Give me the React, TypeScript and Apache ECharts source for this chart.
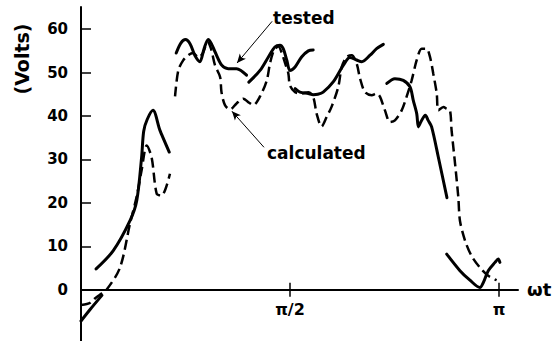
import React, { useEffect, useRef } from "react";
import * as echarts from "echarts";

// x in degrees of ωt (0..180 = 0..π), y in volts
const testedA: number[][] = [[0, -7.2], [4, -4.5], [9, -1.3]];
const testedB: number[][] = [[6.5, 4.8], [13.9, 9.0], [21.1, 15.9], [24, 20.5], [26.1, 30.5], [27, 36.5], [28.5, 39.2], [31, 41.3], [34, 36.7], [38, 31.7]];
const testedC: number[][] = [[41, 54.5], [43, 56.8], [45, 57.6], [47, 56.6], [49, 54], [51.2, 52.5], [53, 55.5], [54.8, 57.6], [56.3, 56.5], [57.7, 54.8], [60.6, 51.7], [63.4, 50.9], [67, 50.9], [71.3, 49.4]];
const testedD: number[][] = [[72.3, 47.8], [77.1, 50.5], [80.7, 53.6], [83.5, 55.9], [85.7, 56.3], [87.1, 55.5], [88.6, 52.9], [90, 50.5], [92.2, 51.3], [95, 53.6], [97.9, 55], [100, 55.2]];
const testedE: number[][] = [[92.2, 46.3], [94.3, 45.5], [97.9, 45.2], [100, 44.9], [102, 45], [104.3, 45.5], [108.7, 47.9], [113, 51.7], [115.8, 53.5], [118.7, 52.9], [120.9, 52.5], [124.5, 54], [127.3, 55.5], [130.2, 56.5]];
const testedF: number[][] = [[131.7, 47.5], [135.2, 48.6], [138.8, 48.2], [141.7, 46.7], [143.1, 43.6], [144.6, 40.5], [145.3, 37.5], [146.5, 38.8], [148.3, 40.2], [149.5, 39], [151, 37.5], [153.9, 30.5], [157.6, 21.2]];
const testedG: number[][] = [[157.5, 8.2], [163.2, 4.4], [167.5, 2.2], [171.8, 0.5], [173.3, 1.7], [175.4, 4.4], [178.3, 6.3], [179.7, 7.1], [180.4, 6.3]];

const calculatedA: number[][] = [[0, -3.5], [2.5, -3.3], [4, -3], [6, -2], [8, -1.2], [11, 0], [16.8, 5.1], [21.1, 15.2], [24, 21.5], [26.1, 27.5], [28.3, 33.2], [30.4, 30.5], [32.6, 22.1], [34.7, 21.7], [38.3, 26.7]];
const calculatedB: number[][] = [[40.5, 44.5], [41.9, 50.5], [44, 52.8], [46.2, 54], [48.3, 54.5], [50.5, 53.5], [52.5, 54.5], [54.5, 57], [56, 55.5], [57.7, 51.7], [59.9, 49], [60.5, 45.5], [62, 42.5], [64.2, 41.5], [67, 42.9], [69.9, 44], [72, 43.2], [74.2, 42.5], [77.1, 44.5], [80, 48.2], [81.4, 52.1], [83, 55], [85, 56], [86.5, 54.5], [88, 52], [89.3, 49.8], [90, 47], [92.2, 45.5], [95, 45.2], [97.9, 45.5], [100, 44.4], [101.5, 40.5], [103.6, 37.6], [105.8, 39.8], [107.9, 42.1], [110.8, 46.7], [112.3, 51.3], [114.4, 53.6], [116.6, 54], [118.7, 52.1], [120.2, 48.6], [122.3, 45.5], [125.2, 44.8], [127.3, 45.2], [128.8, 44.4], [130.9, 41.3], [133.1, 38.6], [135.2, 39], [138.1, 41.3], [140.2, 44.4], [142.4, 48.2], [144.6, 52.9], [146.7, 55.5], [148.8, 55.5], [150.3, 53.6], [151.7, 49.8], [153.2, 45.2], [153.9, 41.3], [156.1, 42.1], [157.4, 41.7], [158.9, 41.3], [159.6, 36.7], [161.1, 29], [162.5, 21.3], [163.2, 15.9], [165.4, 11.3], [168.2, 7.8], [171.8, 5.1], [175.4, 3.2], [179, 2.2]];

const yTickValues = [10, 20, 30, 40, 50, 60];
const yLabelValues = [0, 10, 20, 30, 40, 50, 60];
const xTickValues = [90, 180];
const xTickLabels: Record<number, string> = { 90: "π/2", 180: "π" };

const testedArrow = [[82.3, 61.8], [67.2, 52.2]];
const calculatedArrow = [[78.8, 32.8], [65, 41.1]];

const FONT = "DejaVu Sans";
const X_MAX = 188.2;
const Y_MIN = -11.8;
const Y_MAX = 65.1;

export default function App() {
  const ref = useRef<HTMLDivElement>(null);
  useEffect(() => {
    if (!ref.current) return;
    const chart = echarts.init(ref.current, null, { renderer: "svg" });
    const testedSegs = [testedA, testedB, testedC, testedD, testedE, testedF, testedG];
    const calcSegs = [calculatedA, calculatedB];
    const series: any[] = [];
    testedSegs.forEach((seg, i) => {
      series.push({
        type: "line",
        xAxisIndex: 0,
        yAxisIndex: 0,
        data: seg,
        smooth: 0.3,
        symbol: "none",
        silent: true,
        lineStyle: { color: "#000", width: 3, cap: "round", join: "round" },
        ...(i === 0
          ? {
              markLine: {
                silent: true,
                symbol: ["none", "arrow"],
                symbolSize: [6, 9],
                label: { show: false },
                lineStyle: { color: "#000", width: 1, type: "solid" },
                data: [
                  [{ coord: testedArrow[0] }, { coord: testedArrow[1] }],
                  [{ coord: calculatedArrow[0] }, { coord: calculatedArrow[1] }],
                ],
              },
            }
          : {}),
      });
    });
    calcSegs.forEach((seg) => {
      series.push({
        type: "line",
        xAxisIndex: 0,
        yAxisIndex: 0,
        data: seg,
        smooth: 0.3,
        symbol: "none",
        silent: true,
        lineStyle: { color: "#000", width: 2.5, type: [10, 5] },
      });
    });
    // zero line position in px: top 7 + (Y_MAX) * (334 / (Y_MAX - Y_MIN))
    const plotH = 334;
    const zeroY = 7 + (Y_MAX / (Y_MAX - Y_MIN)) * plotH;
    chart.setOption({
      animation: false,
      backgroundColor: "#fff",
      grid: [
        { left: 81, right: 37, top: 7, height: plotH, containLabel: false, outerBoundsMode: "none" },
        { left: 81, right: 37, top: 7, height: zeroY - 7, containLabel: false, outerBoundsMode: "none" },
        { left: 81, right: 37, top: zeroY, height: 341 - zeroY, containLabel: false, outerBoundsMode: "none" },
      ],
      xAxis: [
        { gridIndex: 0, type: "value", min: 0, max: X_MAX, show: false },
        {
          gridIndex: 1,
          type: "value",
          min: 0,
          max: X_MAX,
          position: "bottom",
          name: "ωt",
          nameLocation: "end",
          nameGap: 9,
          nameTextStyle: { fontFamily: FONT, fontSize: 18, color: "#000", fontWeight: "bold" },
          axisLine: { show: true, onZero: false, lineStyle: { color: "#000", width: 2 } },
          axisTick: { show: true, length: 7, customValues: xTickValues, lineStyle: { color: "#000", width: 1.5 } },
          axisLabel: {
            show: true,
            customValues: xTickValues,
            margin: 12,
            fontFamily: FONT,
            fontSize: 16,
            fontWeight: "bold",
            color: "#000",
            formatter: (v: number) => xTickLabels[v] ?? "",
          },
          splitLine: { show: false },
        },
        {
          gridIndex: 2,
          type: "value",
          min: 0,
          max: X_MAX,
          position: "top",
          axisLine: { show: false, onZero: false },
          axisTick: { show: true, length: 7, customValues: xTickValues, lineStyle: { color: "#000", width: 1.5 } },
          axisLabel: { show: false },
          splitLine: { show: false },
        },
      ],
      yAxis: [
        {
          gridIndex: 0,
          type: "value",
          min: Y_MIN,
          max: Y_MAX,
          axisLine: { show: true, onZero: false, lineStyle: { color: "#000", width: 2 } },
          axisTick: { show: true, inside: true, length: 10, customValues: yTickValues, lineStyle: { color: "#000", width: 1.5 } },
          axisLabel: {
            show: true,
            customValues: yLabelValues,
            margin: 13,
            fontFamily: FONT,
            fontSize: 15,
            color: "#000",
            fontWeight: "bold",
          },
          splitLine: { show: false },
        },
        { gridIndex: 1, type: "value", min: 0, max: Y_MAX, show: false },
        { gridIndex: 2, type: "value", min: Y_MIN, max: 0, show: false },
      ],
      graphic: [
        {
          type: "text",
          x: 22,
          y: 59,
          rotation: Math.PI / 2,
          style: {
            text: "(Volts)",
            fontFamily: FONT,
            fontSize: 19,
            fontWeight: "bold",
            fill: "#000",
            align: "center",
            verticalAlign: "middle",
          },
        },
        {
          type: "text",
          x: 273,
          y: 18,
          style: { text: "tested", fontFamily: FONT, fontSize: 17, fontWeight: "bold", fill: "#000", align: "left", verticalAlign: "middle" },
        },
        {
          type: "text",
          x: 267,
          y: 153,
          style: { text: "calculated", fontFamily: FONT, fontSize: 17, fontWeight: "bold", fill: "#000", align: "left", verticalAlign: "middle" },
        },
      ],
      series,
    });
    return () => chart.dispose();
  }, []);
  return <div ref={ref} style={{ position: "absolute", left: 0, top: 0, width: 555, height: 341 }} />;
}
